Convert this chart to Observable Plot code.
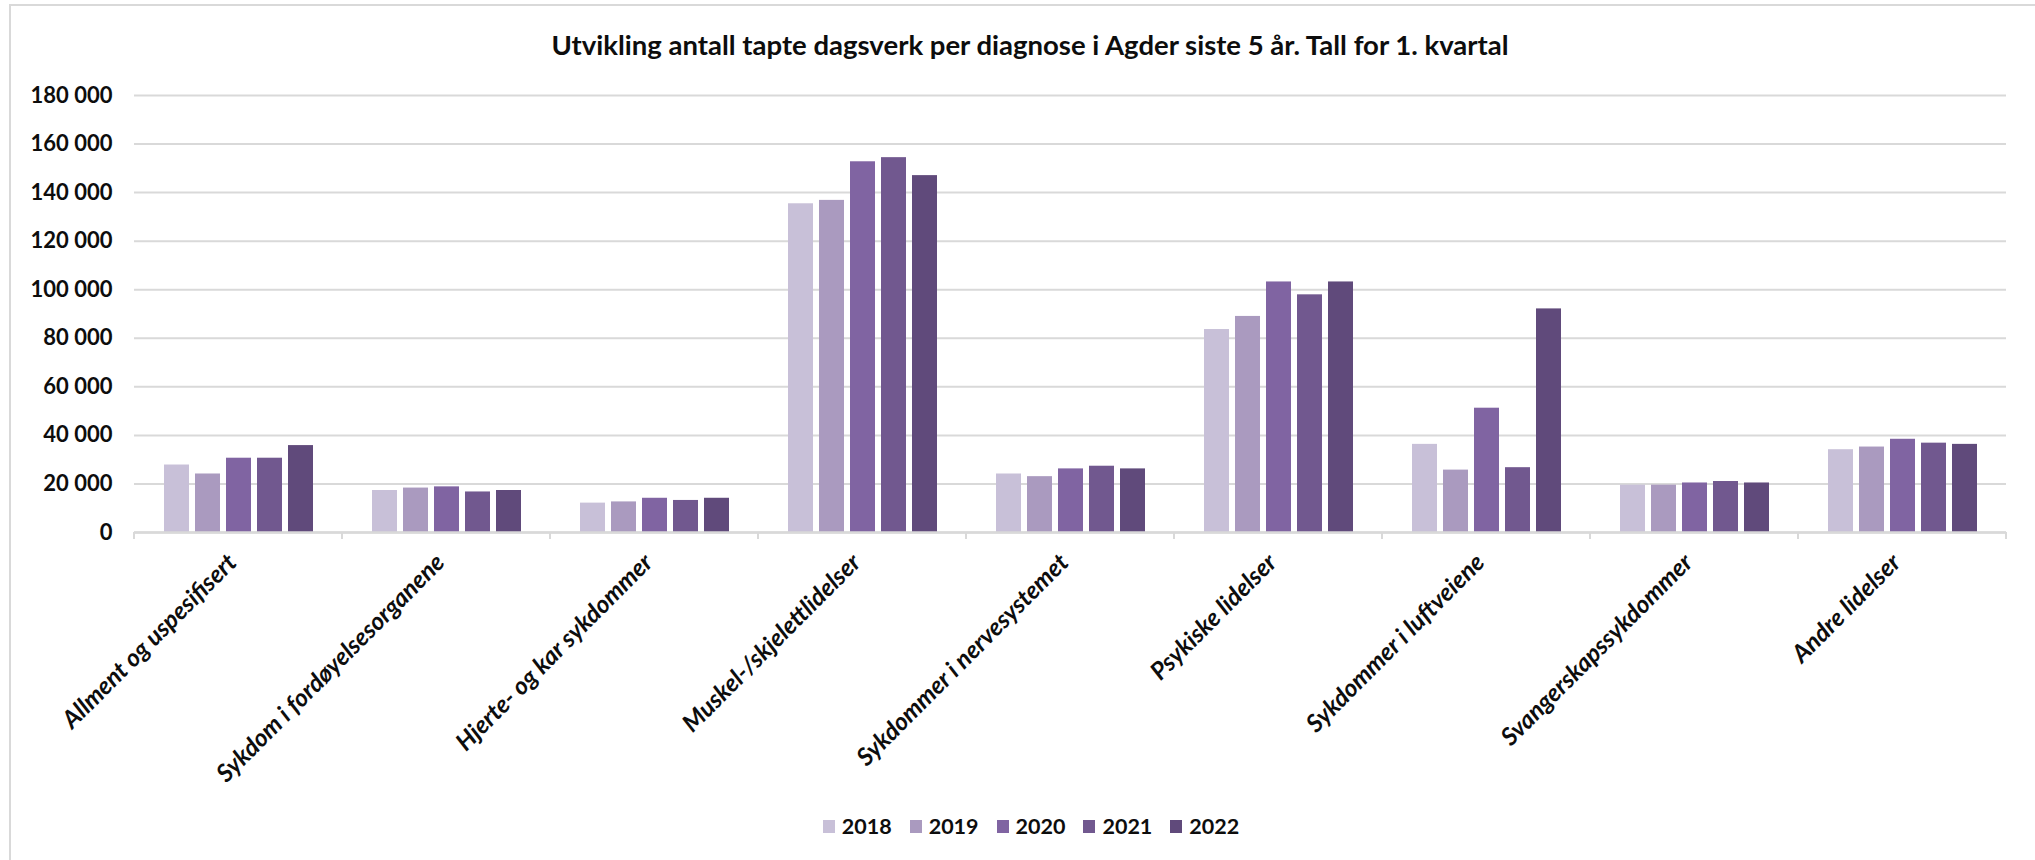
<!DOCTYPE html>
<html>
<head>
<meta charset="utf-8">
<script src="https://cdn.jsdelivr.net/npm/d3@7"></script>
<script src="https://cdn.jsdelivr.net/npm/@observablehq/plot@0.6"></script>
<style>
  html, body { margin: 0; padding: 0; background: #fff; }
  #wrap { position: relative; width: 2035px; height: 860px; overflow: hidden; font-family: Lato, "Open Sans", sans-serif; }
  #border { position: absolute; left: 9px; top: 4px; width: 2040px; height: 870px; border-left: 2.5px solid #d9d9d9; border-top: 2px solid #d9d9d9; box-sizing: border-box; }
  #title { position: absolute; left: 0; top: 28px; width: 2060px; text-align: center; font-size: 27.5px; font-weight: 700; color: #0d0d0d; line-height: 34px; }
  #chart { position: absolute; left: 0; top: 0; }
  #legend { position: absolute; left: 0; top: 812px; width: 2062px; display: flex; justify-content: center; font-size: 21.5px; font-weight: 700; color: #0d0d0d; line-height: 28px; }
  .item { display: flex; align-items: center; margin: 0 9px; }
  .sw { width: 12px; height: 13px; margin-right: 7px; }
</style>
</head>
<body>
<div id="wrap">
  <div id="border"></div>
  <div id="chart"></div>
  <div id="title"></div>
  <div id="legend"></div>
</div>
<script>
const titleText = "Utvikling antall tapte dagsverk per diagnose i Agder siste 5 år. Tall for 1. kvartal";
const categories = [
  "Allment og uspesifisert",
  "Sykdom i fordøyelsesorganene",
  "Hjerte- og kar sykdommer",
  "Muskel-/skjelettlidelser",
  "Sykdommer i nervesystemet",
  "Psykiske lidelser",
  "Sykdommer i luftveiene",
  "Svangerskapssykdommer",
  "Andre lidelser"
];
const years = ["2018", "2019", "2020", "2021", "2022"];
const v2018 = [27800, 17300, 12100, 135400, 24100, 83600, 36300, 19500, 34100];
const v2019 = [24100, 18300, 12600, 136800, 23000, 89000, 25700, 19500, 35200];
const v2020 = [30600, 18800, 14100, 152700, 26200, 103200, 51200, 20400, 38400];
const v2021 = [30600, 16700, 13200, 154400, 27300, 97900, 26700, 21000, 36800];
const v2022 = [35800, 17300, 14100, 147000, 26200, 103200, 92100, 20400, 36300];
const yTicks = [0, 20000, 40000, 60000, 80000, 100000, 120000, 140000, 160000, 180000];
const colors = ["#c8c0d8", "#aa9abf", "#8064a2", "#71588f", "#604a7b"];

const series = [v2018, v2019, v2020, v2021, v2022];
const data = [];
categories.forEach((c, i) => {
  years.forEach((yr, j) => data.push({category: c, year: yr, value: series[j][i]}));
});

const fmt = d => d3.format(",")(d).replace(/,/g, " ");

const chart = Plot.plot({
  width: 2035,
  height: 800,
  marginTop: 95,
  marginLeft: 130,
  marginRight: 25,
  marginBottom: 268,
  style: {fontFamily: "Lato, 'Open Sans', sans-serif", fontWeight: 700, fontSize: "22px", color: "#0d0d0d", background: "transparent"},
  fx: {domain: categories, padding: 0, label: null},
  x: {domain: years, paddingInner: 0.2, paddingOuter: 0.865, axis: null},
  y: {domain: [0, 180000], label: null},
  color: {domain: years, range: colors},
  marks: [
    Plot.gridY(yTicks, {stroke: "#d9d9d9", strokeOpacity: 1, strokeWidth: 2}),
    Plot.axisY(yTicks, {tickSize: 0, tickPadding: 22, tickFormat: fmt, label: null, fontSize: 22, fontWeight: 700}),
    Plot.axisFx({anchor: "bottom", tickSize: 0, tickPadding: 26, tickRotate: -45, label: null, fontSize: 24.5, fontWeight: 700, fontStyle: "italic", dx: -6}),
    Plot.barY(data, {fx: "category", x: "year", y: "value", fill: "year", inset: 0}),
    Plot.ruleY([0], {stroke: "#d9d9d9", strokeWidth: 2.5})
  ]
});

// category boundary ticks derived from the fx and y scales
const fxs = chart.scale("fx");
const ys = chart.scale("y");
const y0 = ys.apply(0);
const bounds = categories.map(c => fxs.apply(c));
bounds.push(fxs.apply(categories[categories.length - 1]) + fxs.bandwidth);
d3.select(chart).append("g")
  .attr("stroke", "#d9d9d9").attr("stroke-width", 2)
  .selectAll("line").data(bounds).join("line")
  .attr("x1", d => d).attr("x2", d => d)
  .attr("y1", y0).attr("y2", y0 + 7);

document.getElementById("chart").appendChild(chart);
document.getElementById("title").textContent = titleText;

const leg = document.getElementById("legend");
years.forEach((yr, i) => {
  const it = document.createElement("div");
  it.className = "item";
  const sw = document.createElement("div");
  sw.className = "sw";
  sw.style.background = colors[i];
  const lb = document.createElement("span");
  lb.textContent = yr;
  it.appendChild(sw);
  it.appendChild(lb);
  leg.appendChild(it);
});
</script>
</body>
</html>
